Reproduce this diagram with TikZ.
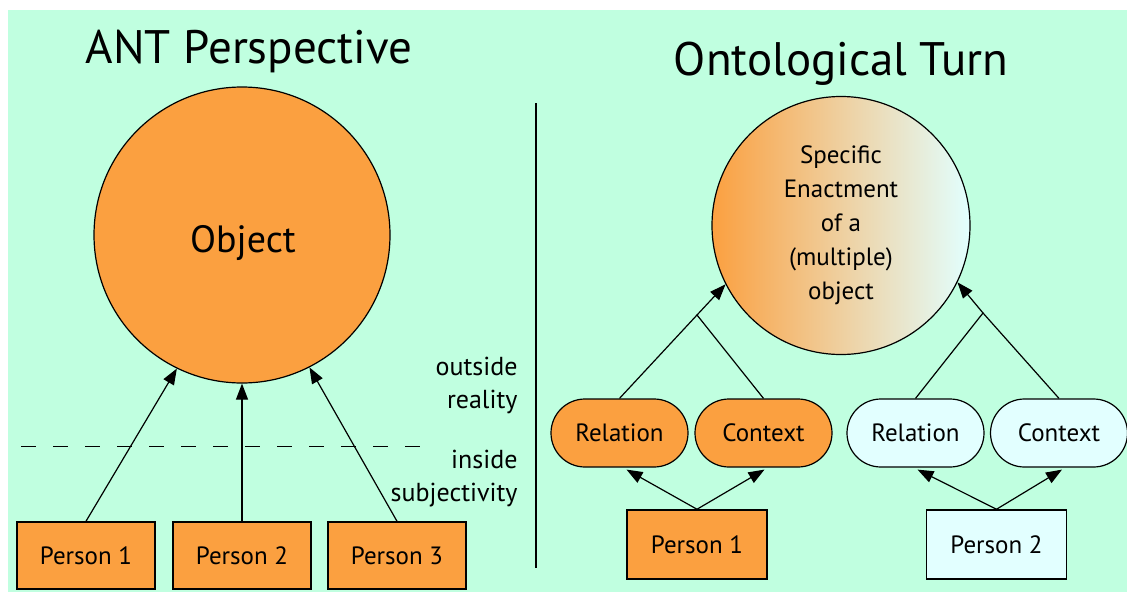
\documentclass[tikz,border=0pt]{standalone}
\usepackage{fontspec}
\setmainfont{PT Sans}
\usepackage{xcolor}
\usetikzlibrary{arrows.meta}

\definecolor{mint}{RGB}{192,255,224}
\definecolor{peach}{RGB}{251,160,64}
\definecolor{ice}{RGB}{226,255,255}

\begin{document}
\begin{tikzpicture}[x=1pt,y=-1pt,
  title/.style={anchor=base, font=\fontsize{47}{50}\selectfont},
  pbox/.style={draw, line width=1.5pt, minimum width=138pt, minimum height=67pt, inner sep=0pt, font=\fontsize{25}{28}\selectfont},
  pill/.style={draw, line width=1.2pt, rounded corners=34pt, minimum width=137pt, minimum height=68pt, inner sep=0pt, font=\fontsize{25}{28}\selectfont},
  side/.style={anchor=base east, align=right, font=\fontsize{26}{33}\selectfont},
  arr/.style={line width=1.2pt, -{Triangle[length=16pt,width=12pt]}}]

\useasboundingbox (0,0) rectangle (1127,592);
\fill[white] (0,0) rectangle (1127,592);
\fill[mint] (8,10) rectangle (1127,592);

\begin{scope}

\node[title] (antT) at (249,63) {ANT Perspective};

\node[circle, draw, line width=1.2pt, fill=peach, minimum size=296pt, inner sep=0pt] (obj) at (242,235) {};
\node[anchor=base, font=\fontsize{38}{40}\selectfont] (objT) at (243,252) {Object};

\draw[line width=1pt, dash pattern=on 15pt off 17pt] (21,446)--(434,446);

% baseline of the last line
\node[side] (outs) at (521,408) {outside\\reality};
\node[side] (ins) at (521,501) {inside\\subjectivity};

\node[pbox, fill=peach] (pa) at (86,555.5) {Person 1};
\node[pbox, fill=peach] (pb) at (242,555.5) {Person 2};
\node[pbox, fill=peach] (pc) at (397,555.5) {Person 3};

\draw[arr] (pa.north)--(obj.244);
\draw[arr] (pb.north)--(obj.south);
\draw[arr] (pc.north)--(obj.297);

\end{scope}

\draw[line width=1.2pt] (536,103)--(536,568);

\begin{scope}

\node[title] (ontT) at (841,75) {Ontological Turn};

\node[circle, draw, line width=1.2pt, left color=peach, right color=ice, minimum size=258pt, inner sep=0pt,
  align=center, font=\fontsize{25}{34}\selectfont] (enact) at (841,225.5)
  {Specific\\Enactment\\of a\\(multiple)\\object};

\node[pill, fill=peach] (relA) at (619.5,433) {Relation};
\node[pill, fill=peach] (ctxA) at (763.5,433) {Context};
\node[pill, fill=ice] (relB) at (915.5,433) {Relation};
\node[pill, fill=ice] (ctxB) at (1059,433) {Context};

\node[pbox, fill=peach, minimum width=140pt, minimum height=69pt] (pd) at (697,544.5) {Person 1};
\node[pbox, fill=ice, minimum width=140pt, minimum height=69pt] (pe) at (996.5,544.5) {Person 2};

\coordinate (jA) at (697,315);
\coordinate (jB) at (983,313);

\draw[line width=1.2pt] (relA.north)--(jA)--(ctxA.north);
\draw[line width=1.2pt] (relB.north)--(jB)--(ctxB.north);
\draw[arr] (jA)--(enact.207);
\draw[arr] (jB)--(enact.334);

\draw[arr] (pd.north)--([xshift=7pt,yshift=-2pt]relA.south);
\draw[arr] (pd.north)--([xshift=1pt,yshift=-2pt]ctxA.south);
\draw[arr] (pe.north)--([xshift=2pt,yshift=-2pt]relB.south);
\draw[arr] (pe.north)--([xshift=3pt,yshift=-2pt]ctxB.south);

\end{scope}

\end{tikzpicture}
\end{document}
